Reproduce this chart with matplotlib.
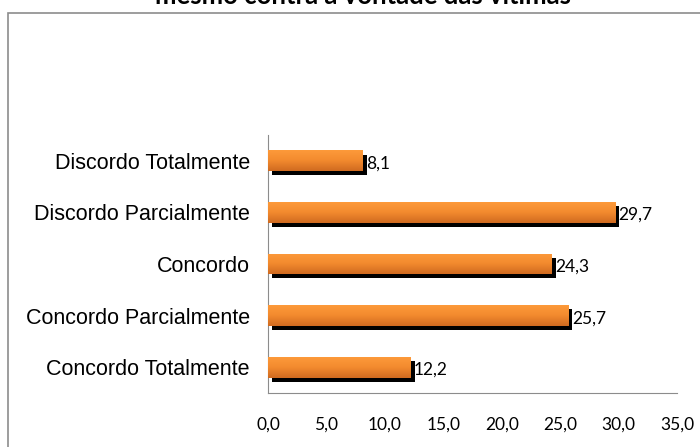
import numpy as np
import matplotlib
matplotlib.use("Agg")
import matplotlib.pyplot as plt
from matplotlib.patches import Rectangle
from matplotlib.colors import LinearSegmentedColormap
import matplotlib.patheffects as pe

# Dados
categorias = ["Concordo Totalmente", "Concordo Parcialmente", "Concordo",
              "Discordo Parcialmente", "Discordo Totalmente"]
valores = [12.2, 25.7, 24.3, 29.7, 8.1]
ticks_x = [0, 5, 10, 15, 20, 25, 30, 35]
titulo = "mesmo contra a vontade das vítimas"

fig = plt.figure(figsize=(7, 4.47), dpi=100)
ax = fig.add_axes([268/700, 54/447, 409/700, 258/447])

# moldura do grafico
fig.patches.append(Rectangle((8/700, -0.1), 1.2, 1 - 13/447 + 0.1,
                             transform=fig.transFigure, fill=False,
                             edgecolor="#8c8c8c", linewidth=1.2))

# titulo (cortado no topo, como no original)
fig.text(363/700, 1 - 3.5/447, titulo, ha="center", va="baseline",
         fontsize=18.5, fontweight="bold", family="Lato")

y = np.arange(len(categorias))
barras = ax.barh(y, valores, height=0.4, color="#f08a2c", zorder=2,
                 path_effects=[pe.SimplePatchShadow(offset=(3, -3),
                                                    shadow_rgbFace="black",
                                                    alpha=1.0),
                               pe.Normal()])

# degradê laranja (claro em cima, escuro em baixo)
grad = np.linspace(0, 1, 64).reshape(-1, 1)
cm = LinearSegmentedColormap.from_list("lar", ["#fd9a3a", "#f28a2e", "#d06a20"])
for b in barras:
    x0, y0 = b.get_x(), b.get_y()
    w, h = b.get_width(), b.get_height()
    im = ax.imshow(grad, cmap=cm, aspect="auto", extent=[x0, x0 + w, y0, y0 + h],
                   origin="upper", zorder=3, interpolation="bilinear")
    im.set_clip_path(b)

for i, v in enumerate(valores):
    ax.text(v + 0.3, i - 0.05, f"{v:.1f}".replace(".", ","), va="center", ha="left",
            fontsize=12.5, family="Lato", zorder=4)

ax.set_xlim(0, 35)
ax.set_ylim(-0.5, len(categorias) - 0.5)
ax.set_xticks(ticks_x, labels=[f"{t:.1f}".replace(".", ",") for t in ticks_x],
              fontsize=12.5, family="Lato")
ax.set_yticks(y, labels=categorias, fontsize=15.5, family="Liberation Sans")
ax.tick_params(axis="both", length=0)
ax.tick_params(axis="y", pad=13)
ax.tick_params(axis="x", pad=17)

for s in ["top", "right"]:
    ax.spines[s].set_visible(False)
ax.spines["left"].set_color("#8c8c8c")
ax.spines["bottom"].set_color("#8c8c8c")

fig.savefig("out.png", dpi=100)
